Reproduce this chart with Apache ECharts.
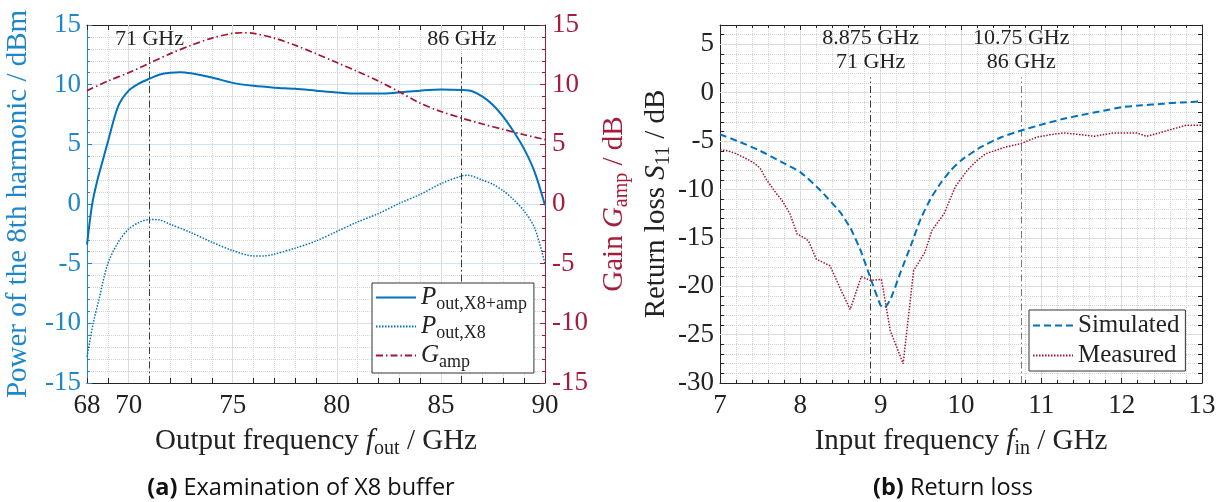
<!DOCTYPE html>
<html><head><meta charset="utf-8">
<script src="https://cdn.jsdelivr.net/npm/echarts@6.0.0/dist/echarts.min.js"></script>
<style>html,body{margin:0;padding:0;background:#fff}#c{width:1225px;height:502px}</style>
</head><body><div id="c"></div>
<script>
// ---------- data: (a) Examination of X8 buffer ----------
const fOutPamp = [68, 68.25, 68.5, 68.75, 69, 69.5, 70, 70.5, 71, 71.5, 72, 72.5, 73, 74, 75, 76, 77, 78, 79, 80, 81, 82, 83, 84, 85, 86, 86.5, 87, 87.5, 88, 88.5, 89, 89.5, 90];
const pOutX8Amp = [-3.4, 0.0, 2.0, 3.6, 5.2, 8.2, 9.5, 10.1, 10.5, 10.85, 11.0, 11.05, 10.95, 10.6, 10.15, 9.9, 9.75, 9.65, 9.5, 9.35, 9.25, 9.25, 9.35, 9.5, 9.6, 9.55, 9.45, 9.0, 8.3, 7.3, 6.05, 4.6, 2.7, -0.1];
const fOutPx8 = [68, 68.3, 68.6, 69, 69.5, 70, 70.5, 71, 71.5, 72, 73, 74, 75, 76, 76.5, 77, 78, 79, 80, 81, 82, 83, 84, 85, 86, 86.3, 87, 87.5, 88, 88.5, 89, 89.5, 90];
const pOutX8 = [-12.8, -10.0, -7.8, -5.0, -3.2, -2.1, -1.55, -1.3, -1.35, -1.7, -2.4, -3.2, -3.9, -4.35, -4.35, -4.2, -3.7, -3.1, -2.3, -1.5, -0.8, 0.05, 0.8, 1.7, 2.35, 2.4, 2.0, 1.65, 1.1, 0.35, -0.6, -2.0, -5.0];
const fOutGamp = [68, 69, 70, 71, 72, 73, 74, 75, 75.5, 76, 77, 78, 79, 80, 81, 82, 83, 84, 85, 86, 87, 88, 89, 90];
const gAmp = [9.5, 10.3, 11.0, 11.8, 12.6, 13.3, 13.9, 14.3, 14.35, 14.3, 13.9, 13.3, 12.6, 11.85, 11.1, 10.3, 9.4, 8.45, 7.75, 7.2, 6.7, 6.25, 5.8, 5.4];
const xTicksA = [68, 70, 75, 80, 85, 90];
const majorXA = [70, 75, 80, 85];
const refA = [71, 86];
const refLabelsA = ['71 GHz', '86 GHz'];

// ---------- data: (b) Return loss ----------
const fInSim = [7, 7.25, 7.5, 7.75, 8, 8.25, 8.5, 8.625, 8.75, 8.875, 9, 9.05, 9.125, 9.25, 9.375, 9.5, 9.625, 9.75, 9.875, 10, 10.25, 10.5, 10.75, 11, 11.25, 11.5, 11.75, 12, 12.25, 12.5, 12.75, 13];
const s11Sim = [-4.3, -5.1, -6.0, -7.1, -8.2, -10.1, -12.4, -14.0, -16.3, -19.2, -22.0, -22.2, -21.3, -18.5, -15.8, -13.0, -10.9, -9.3, -8.0, -7.0, -5.6, -4.6, -3.9, -3.3, -2.75, -2.3, -1.9, -1.5, -1.3, -1.15, -1.0, -0.9];
const fInMeas = [7, 7.1, 7.2, 7.3, 7.43, 7.5, 7.58, 7.7, 7.77, 7.87, 7.96, 8.05, 8.1, 8.2, 8.3, 8.37, 8.49, 8.62, 8.76, 8.87, 9.01, 9.12, 9.28, 9.41, 9.55, 9.64, 9.79, 9.93, 10.08, 10.2, 10.31, 10.45, 10.56, 10.75, 10.94, 11.1, 11.28, 11.45, 11.66, 11.9, 12.19, 12.31, 12.45, 12.57, 12.7, 12.81, 13];
const s11Meas = [-5.9, -6.0, -6.3, -6.7, -7.3, -7.8, -9.0, -10.4, -11.1, -12.5, -14.6, -15.0, -15.3, -17.2, -17.6, -17.9, -20.1, -22.4, -19.0, -19.4, -19.3, -24.6, -28.0, -18.4, -16.5, -14.2, -12.5, -9.7, -8.0, -7.0, -6.3, -5.9, -5.6, -5.25, -4.6, -4.35, -4.15, -4.3, -4.5, -4.15, -4.15, -4.5, -4.2, -3.9, -3.6, -3.35, -3.35];
const majorYB = [-25, -20, -15, -10, -5, 0, 5];
const refB = [8.875, 10.75];
const refLabelsB = ['8.875 GHz\n71 GHz', '10.75 GHz\n86 GHz'];

// ---------- styling ----------
const SERIF = '"Liberation Serif", "DejaVu Serif", serif';
const SANS = '"Open Sans", "Noto Sans", sans-serif';
const BLUE = '#0072BD', BLUE_TXT = '#1f86c9', RED = '#A2142F', RED_TXT = '#a51d3d', DARK = '#262626', TXT = '#222';
const DASHDOT = [7, 3, 1.5, 3];
const NAME_FS = 29, TICK_FS = 27, LEG_FS = 25, ANN_FS = 22, CAP_FS = 23.5;

const zip = (xs, ys) => xs.map((x, i) => [x, ys[i]]);
const richSub = (color, size) => ({
  i: { fontStyle: 'italic', fontFamily: SERIF, fontSize: size, color },
  s: { fontFamily: SERIF, fontSize: Math.round(size * 0.7), color, padding: [Math.round(size * 0.5), 0, 0, 0] }
});
const nameStyle = (color) => ({ fontFamily: SERIF, fontSize: NAME_FS, color, rich: richSub(color, NAME_FS) });
const labelStyle = (color) => ({ fontFamily: SERIF, fontSize: TICK_FS, color });
const minorDotted = { show: true, lineStyle: { color: '#d4d4d4', type: 'dotted', width: 1 } };
const boxLine = (color) => ({ show: true, onZero: false, lineStyle: { color, width: 1 } });

const chart = echarts.init(document.getElementById('c'), null, { renderer: 'canvas' });

const option = {
  animation: false,
  grid: [
    { left: 87, top: 25, width: 458, height: 358 },
    { left: 720, top: 25, width: 482, height: 358 }
  ],
  xAxis: [
    { gridIndex: 0, type: 'value', position: 'bottom', min: 68, max: 90, interval: 1,
      axisLine: boxLine(DARK),
      axisTick: { inside: true, length: 5, lineStyle: { color: DARK } },
      axisLabel: { ...labelStyle(TXT), margin: 9, formatter: v => xTicksA.includes(v) ? String(v) : '' },
      splitLine: minorDotted,
      name: 'Output frequency {i|f}{s|out} / GHz', nameLocation: 'middle', nameGap: 41, nameTextStyle: nameStyle(TXT) },
    { gridIndex: 0, type: 'value', position: 'top', min: 68, max: 90, interval: 1,
      axisLine: boxLine(DARK),
      axisTick: { inside: true, length: 5, lineStyle: { color: DARK } },
      axisLabel: { show: false }, splitLine: { show: false } },
    { gridIndex: 1, type: 'value', position: 'bottom', min: 7, max: 13, interval: 1,
      axisLine: boxLine(DARK),
      axisTick: { inside: true, length: 5, lineStyle: { color: DARK } },
      minorTick: { show: true, splitNumber: 5, length: 3, lineStyle: { color: DARK } },
      axisLabel: { ...labelStyle(TXT), margin: 9 },
      splitLine: { show: true, lineStyle: { color: '#dcdcdc', width: 1 } },
      minorSplitLine: minorDotted,
      name: 'Input frequency {i|f}{s|in} / GHz', nameLocation: 'middle', nameGap: 41, nameTextStyle: nameStyle(TXT) },
    { gridIndex: 1, type: 'value', position: 'top', min: 7, max: 13, interval: 1,
      axisLine: boxLine(DARK),
      axisTick: { inside: true, length: 5, lineStyle: { color: DARK } },
      minorTick: { show: true, splitNumber: 5, length: 3, lineStyle: { color: DARK } },
      axisLabel: { show: false }, splitLine: { show: false } }
  ],
  yAxis: [
    { gridIndex: 0, type: 'value', position: 'left', min: -15, max: 15, interval: 5,
      axisLine: boxLine(BLUE_TXT),
      axisTick: { show: true, inside: true, length: 5, lineStyle: { color: BLUE_TXT } },
      minorTick: { show: true, splitNumber: 5, length: 3, lineStyle: { color: BLUE_TXT } },
      axisLabel: { ...labelStyle(BLUE_TXT), margin: 6 },
      splitLine: { show: true, lineStyle: { color: '#d2e4f3', width: 1 } },
      minorSplitLine: minorDotted,
      name: 'Power of the 8th harmonic / dBm', nameLocation: 'middle', nameGap: 54, nameTextStyle: nameStyle(BLUE_TXT) },
    { gridIndex: 0, type: 'value', position: 'right', min: -15, max: 15, interval: 5,
      axisLine: boxLine(RED_TXT),
      axisTick: { show: true, inside: true, length: 5, lineStyle: { color: RED_TXT } },
      minorTick: { show: true, splitNumber: 5, length: 3, lineStyle: { color: RED_TXT } },
      axisLabel: { ...labelStyle(RED_TXT), margin: 7 },
      splitLine: { show: false },
      name: 'Gain {i|G}{s|amp} / dB', nameLocation: 'middle', nameGap: 52, nameTextStyle: nameStyle(RED_TXT) },
    { gridIndex: 1, type: 'value', position: 'left', min: -30, max: 7, interval: 1,
      axisLine: boxLine(DARK),
      axisTick: { show: true, inside: true, length: 4, lineStyle: { color: DARK } },
      axisLabel: { ...labelStyle(TXT), margin: 6, formatter: v => (v % 5 === 0 && v <= 5) ? String(v) : '' },
      splitLine: minorDotted,
      name: 'Return loss {i|S}{s|11} / dB', nameLocation: 'middle', nameGap: 45, nameTextStyle: nameStyle(TXT) },
    { gridIndex: 1, type: 'value', position: 'right', min: -30, max: 7, interval: 1,
      axisLine: boxLine(DARK),
      axisTick: { show: true, inside: true, length: 4, lineStyle: { color: DARK } },
      axisLabel: { show: false }, splitLine: { show: false } }
  ],
  legend: [
    { data: ['Pamp', 'Px8', 'Gamp'], orient: 'vertical', left: 372, top: 283,
      itemWidth: 40, itemHeight: 2, itemGap: 1, padding: [2, 7, 2, 3],
      itemStyle: { opacity: 0 },
      borderColor: '#333', borderWidth: 1, backgroundColor: '#fff',
      formatter: n => ({ Pamp: '{i|P}{s|out,X8+amp}', Px8: '{i|P}{s|out,X8}', Gamp: '{i|G}{s|amp}' })[n],
      textStyle: { fontFamily: SERIF, fontSize: LEG_FS, color: TXT, rich: richSub(TXT, LEG_FS) } },
    { data: ['Simulated', 'Measured'], orient: 'vertical', left: 1029, top: 310,
      itemWidth: 40, itemHeight: 2, itemGap: 5, padding: [3, 6, 3, 3],
      itemStyle: { opacity: 0 },
      borderColor: '#333', borderWidth: 1, backgroundColor: '#fff',
      textStyle: { fontFamily: SERIF, fontSize: LEG_FS, color: TXT } }
  ],
  series: [
    { name: 'Pamp', type: 'line', xAxisIndex: 0, yAxisIndex: 0, data: zip(fOutPamp, pOutX8Amp),
      symbol: 'none', smooth: 0.3, z: 4, color: BLUE, lineStyle: { color: BLUE, width: 2 } },
    { name: 'Px8', type: 'line', xAxisIndex: 0, yAxisIndex: 0, data: zip(fOutPx8, pOutX8),
      symbol: 'none', smooth: 0.3, z: 4, color: BLUE, lineStyle: { color: BLUE, width: 1.5, type: [1.5, 1.5] } },
    { name: 'Gamp', type: 'line', xAxisIndex: 0, yAxisIndex: 1, data: zip(fOutGamp, gAmp),
      symbol: 'none', smooth: 0.3, z: 4, color: RED, lineStyle: { color: RED, width: 1.7, type: DASHDOT } },
    { name: 'Simulated', type: 'line', xAxisIndex: 2, yAxisIndex: 2, data: zip(fInSim, s11Sim),
      symbol: 'none', smooth: 0.15, z: 4, color: BLUE, lineStyle: { color: BLUE, width: 2, type: [7, 4] } },
    { name: 'Measured', type: 'line', xAxisIndex: 2, yAxisIndex: 2, data: zip(fInMeas, s11Meas),
      symbol: 'none', z: 4, color: RED, lineStyle: { color: RED, width: 1.5, type: [1.5, 1.5] } },
    { name: 'gridA', type: 'line', xAxisIndex: 0, yAxisIndex: 0, data: [], symbol: 'none',
      markLine: { silent: true, symbol: ['none', 'none'], z: 1, label: { show: false },
        lineStyle: { color: '#dcdcdc', type: 'solid', width: 1 },
        data: majorXA.map(v => ({ xAxis: v })) } },
    { name: 'refA', type: 'line', xAxisIndex: 0, yAxisIndex: 0, data: [], symbol: 'none',
      markLine: { silent: true, symbol: ['none', 'none'], z: 3,
        lineStyle: { color: '#3a3a3a', type: DASHDOT, width: 1 },
        label: { show: true, position: 'end', distance: 3, fontFamily: SERIF, fontSize: ANN_FS, color: TXT },
        data: refA.map((v, i) => [{ coord: [v, -15] }, { coord: [v, 12.6], label: { formatter: refLabelsA[i] } }]) } },
    { name: 'gridB', type: 'line', xAxisIndex: 2, yAxisIndex: 2, data: [], symbol: 'none',
      markLine: { silent: true, symbol: ['none', 'none'], z: 1, label: { show: false },
        lineStyle: { color: '#dcdcdc', type: 'solid', width: 1 },
        data: majorYB.map(v => ({ yAxis: v })) } },
    { name: 'refB', type: 'line', xAxisIndex: 2, yAxisIndex: 2, data: [], symbol: 'none',
      markLine: { silent: true, symbol: ['none', 'none'], z: 3,
        lineStyle: { color: '#3a3a3a', type: DASHDOT, width: 1 },
        label: { show: true, position: 'end', distance: 3, fontFamily: SERIF, fontSize: ANN_FS, color: TXT, lineHeight: 24 },
        data: refB.map((v, i) => [{ coord: [v, -30] }, { coord: [v, 1.6], label: { formatter: refLabelsB[i] },
          lineStyle: { color: i === 1 ? '#7a7a7a' : '#3a3a3a' } }]) } }
  ],
  graphic: [
    { type: 'text', x: 301, y: 488, style: { text: '{b|(a)} Examination of X8 buffer', align: 'center', verticalAlign: 'middle',
      font: CAP_FS + 'px ' + SANS, fill: '#111', rich: { b: { fontWeight: 'bold', fontFamily: SANS, fontSize: CAP_FS, fill: '#111' } } } },
    { type: 'text', x: 953, y: 488, style: { text: '{b|(b)} Return loss', align: 'center', verticalAlign: 'middle',
      font: CAP_FS + 'px ' + SANS, fill: '#111', rich: { b: { fontWeight: 'bold', fontFamily: SANS, fontSize: CAP_FS, fill: '#111' } } } }
  ]
};
chart.setOption(option);
</script></body></html>
